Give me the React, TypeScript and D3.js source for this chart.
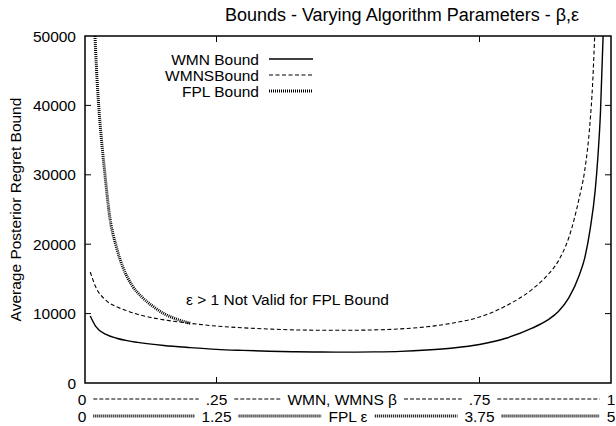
import React from "react";
import * as d3 from "d3";

const W = 616;
const H = 426;
const FONT = "'Liberation Sans', Arial, Helvetica, sans-serif";
const FS = 15.5;

// WMN / WMNS bounds vs beta
const betaVals = [0.01, 0.02, 0.04, 0.06, 0.08, 0.1, 0.15, 0.2, 0.25, 0.3, 0.35, 0.4, 0.45, 0.5, 0.55, 0.6, 0.65, 0.7, 0.75, 0.8, 0.85, 0.88, 0.9, 0.92, 0.94, 0.95, 0.96, 0.97, 0.975, 0.98, 0.985];
const wmnVals = [9650, 8200, 7000, 6450, 6100, 5850, 5400, 5100, 4850, 4700, 4580, 4500, 4460, 4450, 4480, 4560, 4750, 5050, 5550, 6450, 7900, 9100, 10300, 12300, 15600, 18000, 22000, 27800, 32500, 39000, 50000];

const betaValsS = [0.01, 0.02, 0.04, 0.06, 0.08, 0.1, 0.15, 0.2, 0.25, 0.3, 0.35, 0.4, 0.45, 0.5, 0.55, 0.6, 0.65, 0.7, 0.75, 0.8, 0.85, 0.88, 0.9, 0.92, 0.94, 0.95, 0.96, 0.965, 0.969];
const wmnsVals = [16000, 13900, 11900, 11000, 10400, 9900, 9100, 8600, 8200, 7950, 7780, 7650, 7600, 7600, 7650, 7800, 8100, 8650, 9500, 11100, 13500, 15600, 17600, 21000, 26800, 30600, 37400, 43000, 50000];

// FPL bound vs epsilon (only eps <= 1)
const epsVals = [0.095, 0.11, 0.13, 0.16, 0.19, 0.23, 0.3, 0.36, 0.45, 0.54, 0.65, 0.75, 0.87, 1.0];
const fplVals = [50000, 45000, 40000, 34500, 30000, 24500, 19500, 16700, 14000, 12400, 11000, 10000, 9200, 8600];

const yTicks = [0, 10000, 20000, 30000, 40000, 50000];
const xTicks = [0.25, 0.75];
const row1Labels = ["0", ".25", "WMN, WMNS \u03b2", ".75", "1"];
const row1Pos = [0, 0.25, 0.489, 0.75, 1];
const row2Labels = ["0", "1.25", "FPL \u03b5", "3.75", "5"];
const row2Pos = [0, 1.25, 2.5, 3.75, 5];

const legendNames = ["WMN Bound", "WMNSBound", "FPL Bound"];

const margin = { left: 85, right: 5, top: 36, bottom: 43 };

let _ctx: CanvasRenderingContext2D | null = null;
function textWidth(t: string, size: number) {
  if (!_ctx) {
    const c = document.createElement("canvas");
    _ctx = c.getContext("2d");
  }
  if (!_ctx) return t.length * size * 0.55;
  _ctx.font = `${size}px 'Liberation Sans', Arial, sans-serif`;
  return _ctx.measureText(t).width;
}

const styles = [
  { dash: "none", width: 1.4 },
  { dash: "4,2.5", width: 1.1 },
  { dash: "1,1", width: 3 },
];

export default function App() {
  const x = d3.scaleLinear().domain([0, 1]).range([margin.left, W - margin.right]);
  const xe = d3.scaleLinear().domain([0, 5]).range([margin.left, W - margin.right]);
  const y = d3.scaleLinear().domain([0, 50000]).range([H - margin.bottom, margin.top]);

  const line = d3
    .line<[number, number]>()
    .x((d) => d[0])
    .y((d) => d[1])
    .curve(d3.curveMonotoneX);

  const wmnPath = line(betaVals.map((b, i) => [x(b), y(wmnVals[i])]));
  const wmnsPath = line(betaValsS.map((b, i) => [x(b), y(wmnsVals[i])]));
  const fplPath = line(epsVals.map((e, i) => [xe(e), y(fplVals[i])]));

  const x0 = margin.left;
  const x1 = W - margin.right;
  const y0 = H - margin.bottom;
  const y1 = margin.top;
  const tick = 6;

  const makeRow = (labels: string[], centers: number[], cy: number, style: { dash: string; width: number }, key: string) => {
    const widths = labels.map((t) => textWidth(t, FS));
    const els: React.ReactNode[] = [];
    labels.forEach((t, i) => {
      els.push(
        <text key={key + "t" + i} x={centers[i]} y={cy + FS * 0.36} textAnchor="middle" fontSize={FS} fontFamily={FONT}>
          {t}
        </text>
      );
      if (i < labels.length - 1) {
        const a = centers[i] + widths[i] / 2 + 7;
        const b = centers[i + 1] - widths[i + 1] / 2 - 7;
        els.push(
          <line key={key + "l" + i} x1={a} x2={b} y1={cy} y2={cy} stroke="#000" strokeWidth={style.width} strokeDasharray={style.dash} />
        );
      }
    });
    return els;
  };

  const r1c = row1Pos.map((p, i) => (i === 0 ? x(p) - 3 : x(p)));
  const r2c = row2Pos.map((p, i) => (i === 0 ? xe(p) - 3 : xe(p)));

  const legendX = 259;
  const legendY = [59, 75, 91];

  return (
    <svg width={W} height={H} style={{ position: "absolute", left: 0, top: 0, background: "#fff" }}>
      <rect x={0} y={0} width={W} height={H} fill="#fff" />
      <text x={402} y={21} textAnchor="middle" fontSize={18} fontFamily={FONT}>
        Bounds - Varying Algorithm Parameters - {"\u03b2,\u03b5"}
      </text>
      <text
        transform={`translate(${21},${(y0 + y1) / 2}) rotate(-90)`}
        textAnchor="middle"
        fontSize={FS}
        fontFamily={FONT}
      >
        Average Posterior Regret Bound
      </text>

      {yTicks.map((t) => (
        <g key={"yt" + t}>
          <text x={76} y={y(t) + FS * 0.36} textAnchor="end" fontSize={FS} fontFamily={FONT}>
            {t}
          </text>
          {t > 0 && t < 50000 && (
            <>
              <line x1={x0} x2={x0 + tick} y1={y(t)} y2={y(t)} stroke="#000" strokeWidth={1} />
              <line x1={x1} x2={x1 - tick} y1={y(t)} y2={y(t)} stroke="#000" strokeWidth={1} />
            </>
          )}
        </g>
      ))}
      {xTicks.map((t) => (
        <g key={"xt" + t}>
          <line x1={x(t)} x2={x(t)} y1={y0} y2={y0 - tick} stroke="#000" strokeWidth={1} />
          <line x1={x(t)} x2={x(t)} y1={y1} y2={y1 + tick} stroke="#000" strokeWidth={1} />
        </g>
      ))}

      <defs>
        <clipPath id="plotclip">
          <rect x={x0} y={y1} width={x1 - x0} height={y0 - y1} />
        </clipPath>
      </defs>
      <g clipPath="url(#plotclip)" fill="none" stroke="#000">
        <path d={wmnPath || ""} strokeWidth={styles[0].width} />
        <path d={wmnsPath || ""} strokeWidth={styles[1].width} strokeDasharray={styles[1].dash} />
        <path d={fplPath || ""} strokeWidth={styles[2].width} strokeDasharray={styles[2].dash} />
      </g>

      <text x={186} y={305} fontSize={FS} fontFamily={FONT}>
        {"\u03b5 > 1 Not Valid for FPL Bound"}
      </text>

      {legendNames.map((n, i) => (
        <g key={"lg" + i}>
          <text x={legendX} y={legendY[i] + FS * 0.36} textAnchor="end" fontSize={FS} fontFamily={FONT}>
            {n}
          </text>
          <line
            x1={269}
            x2={313}
            y1={legendY[i]}
            y2={legendY[i]}
            stroke="#000"
            strokeWidth={styles[i].width}
            strokeDasharray={styles[i].dash}
          />
        </g>
      ))}

      {makeRow(row1Labels, r1c, 399, { dash: "4,2", width: 1 }, "r1")}
      {makeRow(row2Labels, r2c, 416, { dash: "1,1", width: 3 }, "r2")}

      <rect x={x0} y={y1} width={x1 - x0} height={y0 - y1} fill="none" stroke="#000" strokeWidth={1.5} />
    </svg>
  );
}
